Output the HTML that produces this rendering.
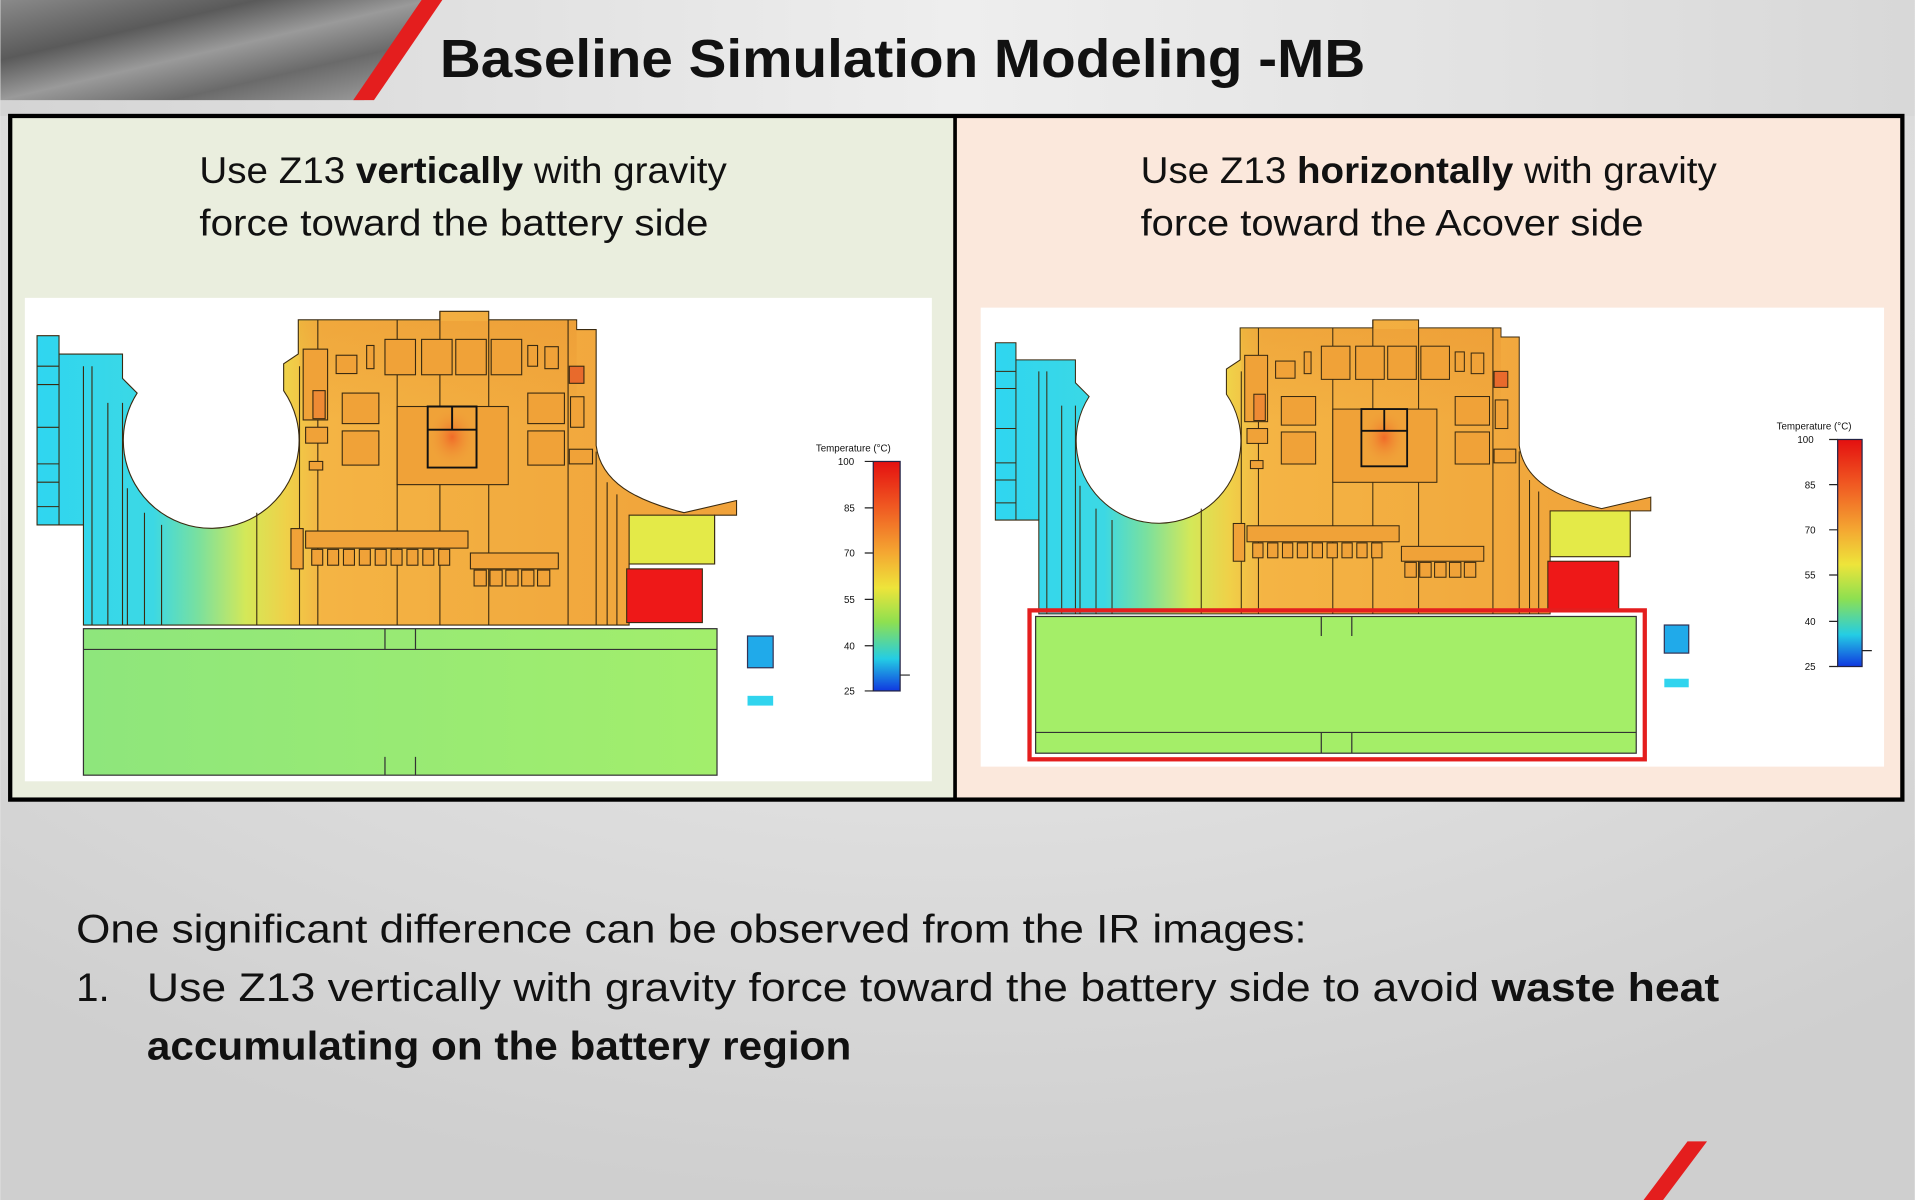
<!DOCTYPE html>
<html><head><meta charset="utf-8"><style>
html,body{margin:0;padding:0;width:1915px;height:1200px;overflow:hidden;background:#e4e4e4}
svg{display:block}
text{font-family:"Liberation Sans",sans-serif;fill:#111}
</style></head><body>
<svg width="1915" height="1200" viewBox="0 0 1568 983" xmlns="http://www.w3.org/2000/svg">
<defs>
<linearGradient id="bgtop" x1="0" y1="0" x2="1" y2="0">
<stop offset="0" stop-color="#d4d4d4"/><stop offset="0.5" stop-color="#eeeeee"/><stop offset="1" stop-color="#d8d8d8"/></linearGradient>
<radialGradient id="bgbot" cx="0.5" cy="0.2" r="0.8">
<stop offset="0" stop-color="#f4f4f4"/><stop offset="1" stop-color="#cfcfcf"/></radialGradient>
<linearGradient id="metal" x1="0" y1="0" x2="1" y2="1">
<stop offset="0" stop-color="#8a8a8a"/><stop offset="0.3" stop-color="#5a5a5a"/><stop offset="0.5" stop-color="#9a9a9a"/><stop offset="0.7" stop-color="#6a6a6a"/><stop offset="1" stop-color="#a8a8a8"/></linearGradient>
<linearGradient id="board" gradientUnits="userSpaceOnUse" x1="30" y1="0" x2="600" y2="0">
<stop offset="0" stop-color="#2fd6f0"/><stop offset="0.167" stop-color="#3cd8e4"/><stop offset="0.23" stop-color="#78e0a0"/><stop offset="0.3" stop-color="#d4e858"/><stop offset="0.36" stop-color="#f0d048"/><stop offset="0.41" stop-color="#f4b444"/><stop offset="1" stop-color="#f0a23a"/></linearGradient>
<linearGradient id="topshade" x1="0" y1="0" x2="0" y2="1">
<stop offset="0" stop-color="#e8902e" stop-opacity="0.35"/><stop offset="1" stop-color="#e8902e" stop-opacity="0"/></linearGradient>
<linearGradient id="bat" x1="0" y1="0" x2="1" y2="0">
<stop offset="0" stop-color="#8ee67c"/><stop offset="1" stop-color="#a2ee6c"/></linearGradient>
<linearGradient id="cbar" x1="0" y1="0" x2="0" y2="1">
<stop offset="0" stop-color="#e41010"/><stop offset="0.2" stop-color="#f05a22"/><stop offset="0.4" stop-color="#f4a832"/><stop offset="0.55" stop-color="#eee43a"/><stop offset="0.7" stop-color="#8ee050"/><stop offset="0.86" stop-color="#24cde4"/><stop offset="1" stop-color="#1038e0"/></linearGradient>
<radialGradient id="hot" cx="0.5" cy="0.5" r="0.5">
<stop offset="0" stop-color="#f06a28"/><stop offset="1" stop-color="#f0a23a" stop-opacity="0"/></radialGradient>

<g id="brd" stroke="#3a2a10" stroke-width="0.9">
<path fill="url(#board)" d="M30,275 H48 V290 H100 V310 L112,322 A72,72 0 1 0 232,320 L232,298 L244,290 V262 H360 V255 H400 V262 H472 V270 H488 V365 C492,395 520,410 560,420 L603,410 V422 H585 V462 H515 V512 H68 V430 H30 Z"/>
<rect x="245" y="263" width="227" height="80" fill="url(#topshade)" stroke="none"/>
<rect x="515" y="422" width="70" height="40" fill="#e4ea48"/>
<path fill="none" d="M48,290 V430 M68,430 V300 M75,300 V512 M88,330 V512 M100,330 V512 M104,400 V512 M118,420 V512 M132,430 V512 M210,420 V512 M245,300 V512 M260,262 V512 M325,262 V512 M360,255 V512 M400,262 V512 M465,262 V512 M488,370 V512 M497,395 V512 M505,405 V512 M30,300 H48 M30,315 H48 M30,350 H48 M30,380 H48 M30,395 H48 M30,415 H48"/>
<g fill="#f0a238">
<rect x="315" y="278" width="25" height="29"/><rect x="345" y="278" width="25" height="29"/><rect x="373" y="278" width="25" height="29"/><rect x="402" y="278" width="25" height="29"/>
<rect x="300" y="283" width="6" height="19"/><rect x="432" y="283" width="8" height="17"/><rect x="446" y="284" width="11" height="18"/><rect x="275" y="291" width="17" height="15"/>
<rect x="248" y="286" width="20" height="58"/>
<rect x="280" y="322" width="30" height="25"/><rect x="280" y="353" width="30" height="28"/>
<rect x="325" y="333" width="91" height="64"/>
<rect x="432" y="322" width="30" height="25"/><rect x="432" y="353" width="30" height="28"/>
<rect x="467" y="325" width="11" height="25"/><rect x="466" y="368" width="19" height="12"/>
<rect x="250" y="350" width="18" height="13"/><rect x="253" y="378" width="11" height="7"/>
<rect x="250" y="435" width="133" height="14"/><rect x="238" y="433" width="10" height="33"/>
<rect x="385" y="453" width="72" height="13"/>
</g>
<rect x="256" y="320" width="10" height="23" fill="#ee8a34"/>
<rect x="466" y="300" width="12" height="14" fill="#e86a2c"/>
<rect x="350" y="333" width="40" height="50" fill="url(#hot)"/>
<path fill="none" stroke="#111" stroke-width="1.6" d="M350,333 H390 V383 H350 Z M350,352 H390 M370,333 V352"/>
<g fill="#f0a238">
<rect x="255" y="450" width="9" height="13"/><rect x="268" y="450" width="9" height="13"/><rect x="281" y="450" width="9" height="13"/><rect x="294" y="450" width="9" height="13"/><rect x="307" y="450" width="9" height="13"/><rect x="320" y="450" width="9" height="13"/><rect x="333" y="450" width="9" height="13"/><rect x="346" y="450" width="9" height="13"/><rect x="359" y="450" width="9" height="13"/>
<rect x="388" y="467" width="10" height="13"/><rect x="401" y="467" width="10" height="13"/><rect x="414" y="467" width="10" height="13"/><rect x="427" y="467" width="10" height="13"/><rect x="440" y="467" width="10" height="13"/>
</g>
<rect x="513" y="466" width="62" height="44" fill="#ee1818"/>
</g>
</defs>

<rect x="0" y="0" width="1568" height="983" fill="url(#bgbot)"/>
<rect x="0" y="0" width="1568" height="95" fill="url(#bgtop)"/>
<path d="M0,0 H352 L298,82 H0 Z" fill="url(#metal)"/>
<path d="M345,0 H362 L306,82 H289 Z" fill="#e41e1e"/>
<text x="360" y="63" font-size="44" font-weight="bold" textLength="758" lengthAdjust="spacingAndGlyphs">Baseline Simulation Modeling -MB</text>

<rect x="9" y="96" width="773" height="558" fill="#eaeede"/>
<rect x="782" y="96" width="775" height="558" fill="#fbe8dc"/>
<rect x="8" y="95" width="1550" height="560" fill="none" stroke="#000" stroke-width="3.5"/>
<line x1="782" y1="95" x2="782" y2="655" stroke="#000" stroke-width="3"/>

<text x="163" y="150" font-size="30" textLength="432" lengthAdjust="spacingAndGlyphs">Use Z13 <tspan font-weight="bold">vertically</tspan> with gravity</text>
<text x="163" y="193" font-size="30" textLength="417" lengthAdjust="spacingAndGlyphs">force toward the battery side</text>
<text x="934" y="150" font-size="30" textLength="472" lengthAdjust="spacingAndGlyphs">Use Z13 <tspan font-weight="bold">horizontally</tspan> with gravity</text>
<text x="934" y="193" font-size="30" textLength="412" lengthAdjust="spacingAndGlyphs">force toward the Acover side</text>

<rect x="20" y="244" width="743" height="396" fill="#fff"/>
<use href="#brd"/>
<rect x="68" y="515" width="519" height="120" fill="url(#bat)" stroke="#333" stroke-width="1"/>
<path d="M68,532 H587 M315,515 V532 M340,515 V532 M315,620 V635 M340,620 V635" stroke="#333" stroke-width="1" fill="none"/>
<rect x="612" y="521" width="21" height="26" fill="#20aaea" stroke="#335" stroke-width="1"/>
<rect x="612" y="570" width="21" height="8" fill="#30d4ee"/>
<rect x="715" y="378" width="22" height="188" fill="url(#cbar)" stroke="#224" stroke-width="1"/>
<path d="M708,378 H715 M708,416 H715 M708,453 H715 M708,491 H715 M708,529 H715 M708,566 H715 M737,553 H745" stroke="#222" stroke-width="1"/>
<g font-size="8" style="font-family:'Liberation Serif',serif">
<text x="668" y="370" font-size="8">Temperature (°C)</text>
<text x="686" y="381">100</text><text x="691" y="419">85</text><text x="691" y="456">70</text><text x="691" y="494">55</text><text x="691" y="532">40</text><text x="691" y="569">25</text>
</g>

<rect x="803" y="252" width="740" height="376" fill="#fff"/>
<g transform="translate(786.9,23.1) scale(0.937)"><use href="#brd"/></g>
<rect x="848" y="505" width="492" height="112" fill="#a4ee68" stroke="#333" stroke-width="1"/>
<path d="M848,600 H1340 M1082,505 V521 M1107,505 V521 M1082,600 V617 M1107,600 V617" stroke="#333" stroke-width="1" fill="none"/>
<rect x="843" y="500" width="504" height="122" fill="none" stroke="#e41e1e" stroke-width="3.5"/>
<rect x="1363" y="512" width="20" height="23" fill="#20aaea" stroke="#335" stroke-width="1"/>
<rect x="1363" y="556" width="20" height="7" fill="#30d4ee"/>
<rect x="1505" y="360" width="20" height="186" fill="url(#cbar)" stroke="#224" stroke-width="1"/>
<path d="M1498,360 H1505 M1498,397 H1505 M1498,434 H1505 M1498,471 H1505 M1498,509 H1505 M1498,546 H1505 M1525,533 H1533" stroke="#222" stroke-width="1"/>
<g font-size="8" style="font-family:'Liberation Serif',serif">
<text x="1455" y="352">Temperature (°C)</text>
<text x="1472" y="363">100</text><text x="1478" y="400">85</text><text x="1478" y="437">70</text><text x="1478" y="474">55</text><text x="1478" y="512">40</text><text x="1478" y="549">25</text>
</g>

<text x="62" y="772" font-size="33" textLength="1008" lengthAdjust="spacingAndGlyphs">One significant difference can be observed from the IR images:</text>
<text x="62" y="820" font-size="33">1.</text>
<text x="120" y="820" font-size="33" textLength="1288" lengthAdjust="spacingAndGlyphs">Use Z13 vertically with gravity force toward the battery side to avoid <tspan font-weight="bold">waste heat</tspan></text>
<text x="120" y="868" font-size="33" font-weight="bold" textLength="577" lengthAdjust="spacingAndGlyphs">accumulating on the battery region</text>

<path d="M1382,935 H1398 L1362,983 H1346 Z" fill="#e41e1e"/>
</svg>
</body></html>
